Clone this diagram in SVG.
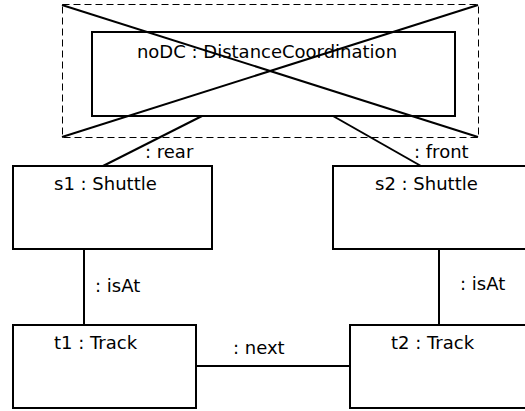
<svg xmlns="http://www.w3.org/2000/svg" width="525" height="411" viewBox="0 0 525 411">
<style>
.box{fill:#fff;stroke:#000;stroke-width:2}
.ln{stroke:#000;stroke-width:2;fill:none}
text{font-family:"DejaVu Sans",sans-serif;font-size:18px;fill:#000}
</style>
<rect width="525" height="411" fill="#fff"/>
<g id="connectors">
<line class="ln" x1="202" y1="116" x2="103" y2="166"/>
<line class="ln" x1="333" y1="116" x2="421" y2="166"/>
<line class="ln" x1="84" y1="249" x2="84" y2="325"/>
<line class="ln" x1="439" y1="248" x2="439" y2="325"/>
<line class="ln" x1="196" y1="366" x2="350" y2="366"/>
<text x="145" y="158">: rear</text>
<text x="414" y="158">: front</text>
<text x="95" y="292">: isAt</text>
<text x="460" y="290">: isAt</text>
<text x="233" y="354">: next</text>
</g>
<g id="noDC">
<rect x="62.5" y="4.5" width="416" height="133" fill="none" stroke="#000" stroke-width="1" stroke-dasharray="7,4"/>
<rect class="box" x="92" y="32" width="363" height="84"/>
<text x="267" y="58" text-anchor="middle">noDC : DistanceCoordination</text>
<line class="ln" x1="62" y1="5" x2="478" y2="137"/>
<line class="ln" x1="478" y1="5" x2="62" y2="137"/>
</g>
<g id="s1">
<rect class="box" x="13" y="166" width="199" height="83"/>
<text x="54" y="190">s1 : Shuttle</text>
</g>
<g id="s2">
<rect class="box" x="333" y="166" width="200" height="83"/>
<text x="375" y="190">s2 : Shuttle</text>
</g>
<g id="t1">
<rect class="box" x="13" y="325" width="183" height="83"/>
<text x="54" y="349">t1 : Track</text>
</g>
<g id="t2">
<rect class="box" x="350" y="325" width="183" height="83"/>
<text x="391" y="349">t2 : Track</text>
</g>
</svg>
